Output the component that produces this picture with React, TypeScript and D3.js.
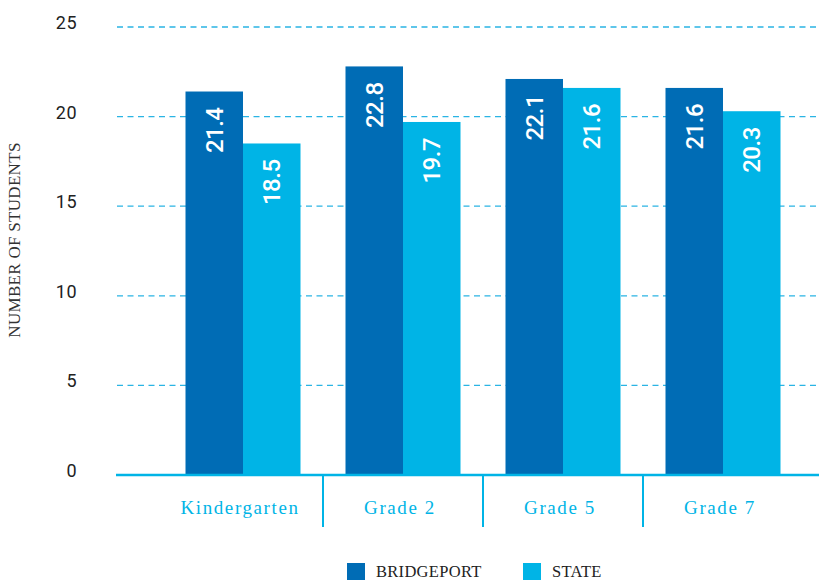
import React from "react";
import * as d3 from "d3";

const categories = ["Kindergarten", "Grade 2", "Grade 5", "Grade 7"];
const seriesNames = ["BRIDGEPORT", "STATE"];
const bridgeport = [21.4, 22.8, 22.1, 21.6];
const stateVals = [18.5, 19.7, 21.6, 20.3];
const yTicks = [0, 5, 10, 15, 20, 25];
const colors = ["#006cb5", "#00b4e6"];

export default function App() {
  const W = 819, H = 580;
  const y = d3.scaleLinear().domain([0, 25]).range([475, 27]);
  const x = d3.scaleBand<string>().domain(categories).range([163, 803]).padding(0);
  const xi = d3.scaleBand<string>().domain(seriesNames).range([22.5, 137.5]).padding(0);
  const series = [bridgeport, stateVals];
  const axisColor = "#00b4e6";
  const labelFont = "Roboto, 'DejaVu Sans', sans-serif";
  const serifFont = "'Liberation Serif', 'DejaVu Serif', serif";

  return (
    <svg width={W} height={H} style={{ position: "absolute", left: 0, top: 0, background: "#fff" }}>
      {yTicks.filter(t => t > 0).map(t => (
        <line key={"g" + t} x1={117} x2={819} y1={y(t)} y2={y(t)}
          stroke="#2ab4e4" strokeWidth={1.3} strokeDasharray="6,4.5" />
      ))}
      {yTicks.map(t => (
        <text key={"t" + t} x={77} y={y(t) + 2} textAnchor="end"
          fontFamily={labelFont} fontSize={18} fill="#222" letterSpacing={0.5}>{t}</text>
      ))}
      <text transform={`translate(20,240) rotate(-90)`} textAnchor="middle"
        fontFamily={serifFont} fontSize={17} fill="#333" letterSpacing={0.3}>NUMBER OF STUDENTS</text>
      {categories.map((c, ci) => (
        <g key={c} transform={`translate(${x(c)},0)`}>
          {seriesNames.map((s, si) => {
            const v = series[si][ci];
            const bx = xi(s)!;
            const bw = xi.bandwidth();
            return (
              <g key={s}>
                <rect x={bx} y={y(v)} width={bw} height={y(0) - y(v)} fill={colors[si]} />
                <text transform={`translate(${bx + bw / 2},${y(v) + 16}) rotate(-90)`}
                  textAnchor="end" dy="0.36em" fontFamily={labelFont} fontWeight={500}
                  fontSize={24} letterSpacing={-0.5} fill="#fff">{v.toFixed(1)}</text>
              </g>
            );
          })}
        </g>
      ))}
      <line x1={116} x2={819} y1={475} y2={475} stroke={axisColor} strokeWidth={2.5} />
      {categories.slice(1).map(c => (
        <line key={"s" + c} x1={x(c)!} x2={x(c)!} y1={475} y2={527} stroke={axisColor} strokeWidth={2} />
      ))}
      {categories.map(c => (
        <text key={"c" + c} x={x(c)! + x.bandwidth() / 2 - 3} y={514} textAnchor="middle"
          fontFamily={serifFont} fontSize={19} letterSpacing={1.6} fill={axisColor}>{c}</text>
      ))}
      {seriesNames.map((s, i) => {
        const lx = [347, 523][i];
        return (
          <g key={"l" + s}>
            <rect x={lx} y={563} width={18} height={17} fill={colors[i]} />
            <text x={lx + 29} y={577} fontFamily={serifFont} fontSize={16.5} letterSpacing={0.3} fill="#222">{s}</text>
          </g>
        );
      })}
    </svg>
  );
}
